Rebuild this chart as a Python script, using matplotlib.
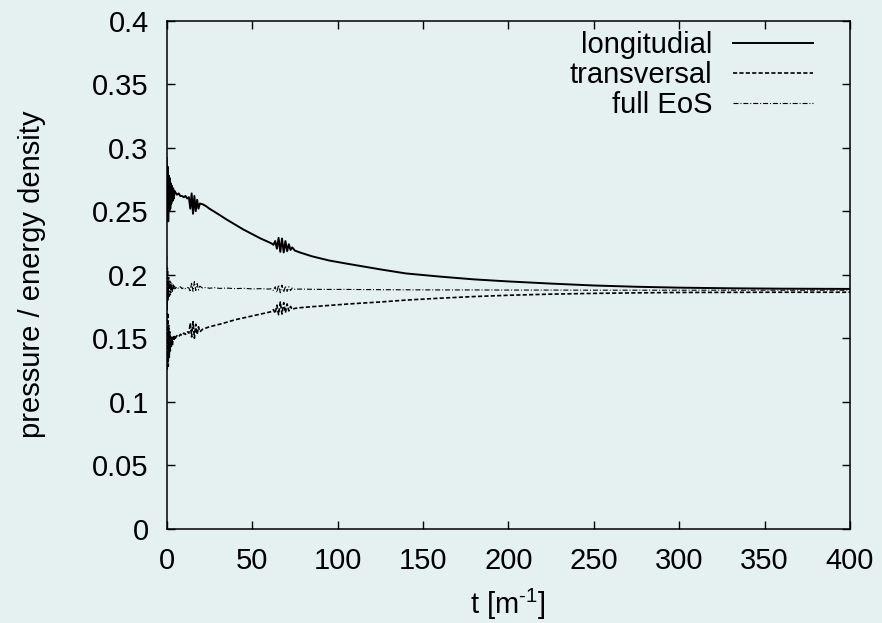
import matplotlib
matplotlib.use("Agg")
import matplotlib.pyplot as plt

# ---- data ----
t = [0, 0.3, 0.6, 0.9, 1.2, 1.5, 1.8, 2.1, 2.4, 2.7, 3.0,
     3.4, 3.8, 4.2, 4.6,
     5, 6, 7, 8, 9, 10, 11, 12, 13,
     13.8, 14.6, 15.4, 16.2, 17.0, 17.8, 18.6, 19.4,
     21, 23, 25, 28, 31, 35,
     40, 45, 50, 55, 60,
     61.5,
     62.5, 63.5, 64.5, 65.5, 66.5, 67.5, 68.5, 69.5, 70.5, 71.5, 72.5, 73.5,
     75, 78,
     85, 95, 105, 115, 125,
     140, 160, 180, 200,
     225, 250, 275, 300,
     330, 360, 400]

longitudinal = [0.292, 0.245, 0.285, 0.242, 0.278, 0.250, 0.276, 0.252, 0.272, 0.256, 0.270,
                0.258, 0.268, 0.260, 0.266,
                0.265, 0.263, 0.264, 0.262, 0.262, 0.261, 0.262, 0.260, 0.261,
                0.252, 0.264, 0.248, 0.262, 0.250, 0.259, 0.252, 0.256,
                0.2555, 0.254, 0.252, 0.2495, 0.247, 0.2435,
                0.2395, 0.2355, 0.232, 0.2285, 0.2255,
                0.2245,
                0.2235, 0.2265, 0.2205, 0.2290, 0.2180, 0.2285, 0.2175, 0.2265, 0.2185, 0.2240, 0.2195, 0.2215,
                0.2190, 0.2175,
                0.2145, 0.2112, 0.2088, 0.2065, 0.2042,
                0.2010, 0.1985, 0.1963, 0.1947,
                0.1930, 0.1915, 0.1905, 0.1898,
                0.1893, 0.1890, 0.1888]

transversal = [0.190, 0.125, 0.170, 0.128, 0.160, 0.135, 0.155, 0.140, 0.152, 0.143, 0.150,
               0.145, 0.151, 0.148, 0.152,
               0.150, 0.152, 0.151, 0.153, 0.152, 0.154, 0.153, 0.155, 0.154,
               0.162, 0.151, 0.163, 0.150, 0.161, 0.153, 0.159, 0.155,
               0.157, 0.158, 0.159, 0.160, 0.161, 0.1625,
               0.1645, 0.166, 0.1675, 0.169, 0.1705,
               0.171,
               0.1725, 0.1695, 0.1760, 0.1685, 0.1785, 0.1690, 0.1780, 0.1700, 0.1770, 0.1715, 0.1750, 0.1725,
               0.1735, 0.1740,
               0.1748, 0.1758, 0.1768, 0.1777, 0.1785,
               0.1800, 0.1815, 0.1828, 0.1838,
               0.1847, 0.1853, 0.1857, 0.1860,
               0.1861, 0.1862, 0.1862]

full_eos = [0.215, 0.172, 0.205, 0.180, 0.198, 0.183, 0.196, 0.184, 0.194, 0.186, 0.193,
            0.187, 0.192, 0.188, 0.191,
            0.189, 0.1905, 0.189, 0.1905, 0.189, 0.190, 0.189, 0.190, 0.1895,
            0.1865, 0.194, 0.187, 0.1945, 0.1875, 0.193, 0.188, 0.191,
            0.1895, 0.190, 0.1893, 0.1898, 0.1892, 0.1895,
            0.189, 0.1893, 0.1888, 0.189, 0.1887,
            0.189,
            0.1875, 0.1905, 0.1860, 0.1920, 0.1858, 0.1918, 0.1862, 0.1912, 0.1868, 0.1905, 0.1875, 0.1895,
            0.1885, 0.1887,
            0.1885, 0.1884, 0.1884, 0.1883, 0.1882,
            0.1881, 0.1880, 0.1880, 0.1879,
            0.1879, 0.1878, 0.1878, 0.1878,
            0.1878, 0.1878, 0.1878]

series_labels = ["longitudial", "transversal", "full EoS"]
xticks = [0, 50, 100, 150, 200, 250, 300, 350, 400]
yticks = [0, 0.05, 0.1, 0.15, 0.2, 0.25, 0.3, 0.35, 0.4]
ytick_labels = ["0", "0.05", "0.1", "0.15", "0.2", "0.25", "0.3", "0.35", "0.4"]
xlabel = r"t [m$^{\text{-1}}$]"
ylabel = "pressure / energy density"

# ---- style ----
bg = "#e5f0f0"
plt.rcParams["font.family"] = ["Liberation Sans", "DejaVu Sans"]
plt.rcParams["mathtext.fontset"] = "custom"
plt.rcParams["mathtext.rm"] = "Liberation Sans"
plt.rcParams["mathtext.it"] = "Liberation Sans"
plt.rcParams["mathtext.default"] = "regular"
plt.rcParams["lines.scale_dashes"] = False
plt.rcParams["axes.unicode_minus"] = False

fs = 21

fig = plt.figure(figsize=(8.82, 6.23), dpi=100, facecolor=bg)
ax = fig.add_axes([166.7 / 882, (623 - 528.7) / 623, 683.3 / 882, 508 / 623])
ax.set_facecolor(bg)

ax.plot(t, longitudinal, color="black", lw=1.4, label=series_labels[0])
ax.plot(t, transversal, color="black", lw=1.2, dashes=(3.0, 1.6), label=series_labels[1])
ax.plot(t, full_eos, color="black", lw=0.8, dashes=(3.6, 1.4, 0.7, 1.4), label=series_labels[2])

ax.set_xlim(0, 400)
ax.set_ylim(0, 0.4)
ax.set_xticks(xticks)
ax.set_xticklabels([str(v) for v in xticks])
ax.set_yticks(yticks)
ax.set_yticklabels(ytick_labels)

ax.tick_params(direction="in", length=6, width=1.0, top=True, right=True,
               labelsize=fs, color="black")
ax.tick_params(axis="y", pad=13)
ax.tick_params(axis="x", pad=13)
for s in ax.spines.values():
    s.set_linewidth(1.1)
    s.set_color("black")

ax.set_xlabel(xlabel, fontsize=fs, labelpad=9)
ax.set_ylabel(ylabel, fontsize=fs, labelpad=33)

leg = ax.legend(loc="upper right", bbox_to_anchor=(0.946, 0.98), markerfirst=False,
                frameon=False, fontsize=fs, handlelength=2.75, handletextpad=0.7,
                labelspacing=0.07, borderpad=0, borderaxespad=0)
for txt in leg.get_texts():
    txt.set_ha("right")

fig.savefig("out.png", dpi=100, facecolor=bg)
